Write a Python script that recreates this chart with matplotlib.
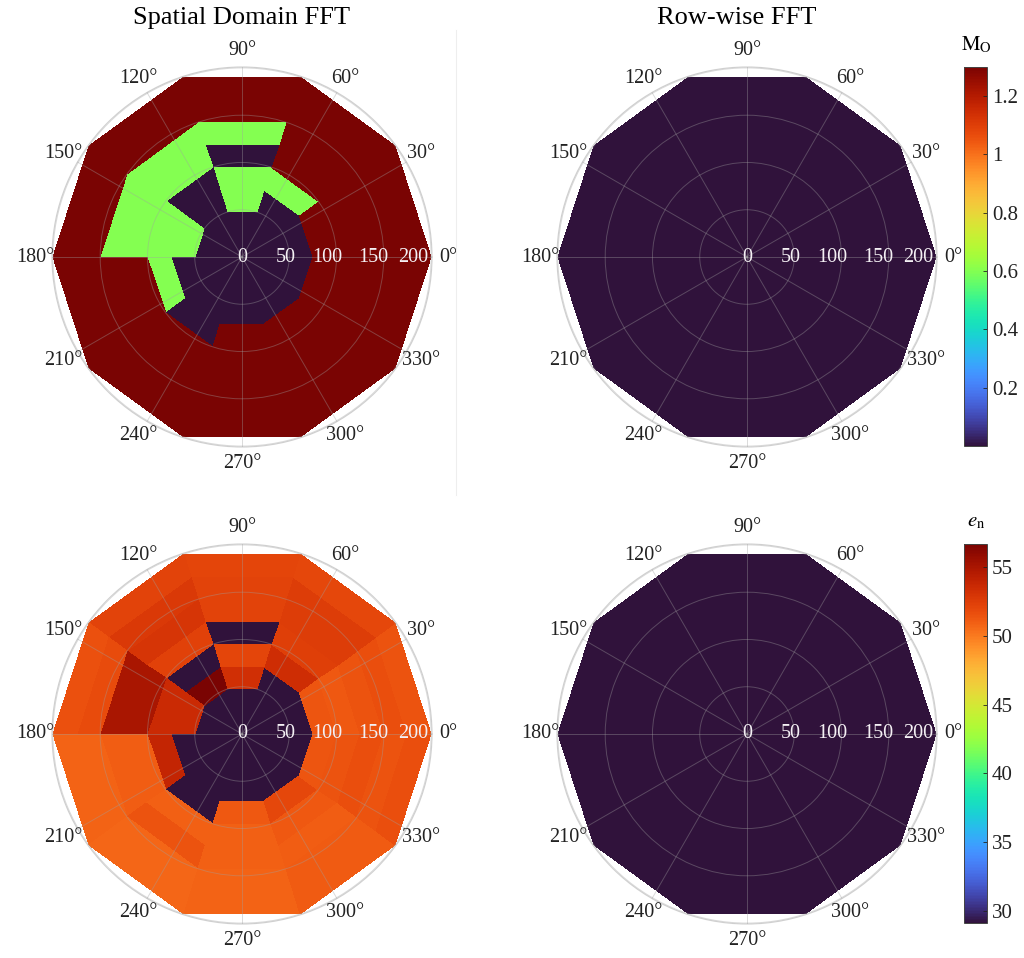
import numpy as np
import matplotlib
matplotlib.use("Agg")
import matplotlib.pyplot as plt
from matplotlib.lines import Line2D

plt.rcParams['font.family'] = ['Liberation Serif', 'DejaVu Serif']
plt.rcParams['mathtext.fontset'] = 'stix'

# --- data ---
# grid edges: 10 angular sectors of 36 deg, 8 radial rings of 25
theta_deg = [0, 36, 72, 108, 144, 180, 216, 252, 288, 324, 360]
r_edges = [0, 25, 50, 75, 100, 125, 150, 175, 200]

# M_O, spatial domain FFT (rows = rings from centre outward, cols = sectors)
mo_spatial = [
    [0.0, 0.0, 0.0, 0.0, 0.0, 0.0, 0.0, 0.0, 0.0, 0.0],
    [0.0, 0.0, 0.0, 0.0, 0.0, 0.0, 0.0, 0.0, 0.0, 0.0],
    [0.0, 0.0, 0.6, 0.0, 0.6, 0.0, 0.0, 0.0, 0.0, 0.0],
    [1.3, 0.6, 0.6, 0.0, 0.6, 0.6, 0.0, 1.3, 1.3, 1.3],
    [1.3, 1.3, 0.0, 0.6, 0.6, 1.3, 1.3, 1.3, 1.3, 1.3],
    [1.3, 1.3, 0.6, 0.6, 0.6, 1.3, 1.3, 1.3, 1.3, 1.3],
    [1.3, 1.3, 1.3, 1.3, 1.3, 1.3, 1.3, 1.3, 1.3, 1.3],
    [1.3, 1.3, 1.3, 1.3, 1.3, 1.3, 1.3, 1.3, 1.3, 1.3],
]
# M_O, row-wise FFT
mo_rowwise = [[0.0] * 10 for _ in range(8)]

# e_n, spatial domain FFT
en_spatial = [
    [29.1, 29.1, 29.1, 29.1, 29.1, 29.1, 29.1, 29.1, 29.1, 29.1],
    [29.1, 29.1, 29.1, 29.1, 29.1, 29.1, 29.1, 29.1, 29.1, 29.1],
    [29.1, 29.1, 53.3, 56.7, 53.6, 29.1, 29.1, 29.1, 29.1, 29.1],
    [51.4, 53.4, 52.1, 29.1, 53.6, 54.0, 29.1, 51.3, 52.0, 51.4],
    [51.3, 52.4, 29.1, 52.3, 55.0, 51.0, 50.9, 50.9, 51.3, 51.5],
    [51.5, 52.6, 52.2, 53.0, 55.0, 51.0, 51.5, 50.9, 51.0, 51.7],
    [51.7, 52.6, 52.2, 52.8, 51.8, 50.8, 50.7, 50.8, 51.1, 51.5],
    [51.5, 52.0, 52.1, 52.2, 51.6, 50.8, 50.7, 50.8, 51.1, 51.7],
]
# e_n, row-wise FFT
en_rowwise = [[29.1] * 10 for _ in range(8)]

mo_lim = (0.0, 1.3)
en_lim = (29.1, 56.7)
mo_ticks = [0.2, 0.4, 0.6, 0.8, 1.0, 1.2]
mo_ticklabels = ['0.2', '0.4', '0.6', '0.8', '1', '1.2']
en_ticks = [30, 35, 40, 45, 50, 55]
r_ticks = [0, 50, 100, 150, 200]
r_label_at = [0, 46, 90, 139, 181]   # where MATLAB put the r tick text
theta_ticks = list(range(0, 360, 30))

W, H = 1024, 958
fig = plt.figure(figsize=(W / 100, H / 100), dpi=100)


def px_box(x, y, w, h):
    return [x / W, 1 - (y + h) / H, w / W, h / H]


def polar_panel(box, data, lim):
    ax = fig.add_axes(px_box(*box), projection='polar')
    th = np.deg2rad(theta_deg)
    mesh = ax.pcolormesh(th, r_edges, np.array(data), cmap='turbo',
                         vmin=lim[0], vmax=lim[1], shading='flat')
    ax.set_ylim(0, 201)
    ax.set_axisbelow(False)
    ax.set_xticks(np.deg2rad(theta_ticks))
    ax.set_xticklabels([f'{t}°' for t in theta_ticks])
    ax.tick_params(axis='x', pad=1.5, labelsize=14.5, colors='#222222')
    ax.set_yticks(r_ticks)
    ax.set_yticklabels([])
    ax.grid(True, color='#a0a0a0', alpha=0.38, lw=0.7)
    ax.spines['polar'].set_color('#d0d0d0')
    ax.spines['polar'].set_linewidth(0.8)
    for r, pos in zip(r_ticks, r_label_at):
        ax.text(0, pos, str(r), ha='center', va='center', fontsize=14.5,
                color='#f4f0f4', zorder=5, clip_on=False)
    return ax, mesh


ax1, m1 = polar_panel((52, 67, 380, 380), mo_spatial, mo_lim)
ax2, m2 = polar_panel((557, 67, 380, 380), mo_rowwise, mo_lim)
ax3, m3 = polar_panel((52, 544, 380, 380), en_spatial, en_lim)
ax4, m4 = polar_panel((557, 544, 380, 380), en_rowwise, en_lim)

fig.text(242 / W, 1 - 18 / H, 'Spatial Domain FFT', ha='center', va='center', fontsize=19)
fig.text(737 / W, 1 - 18 / H, 'Row-wise FFT', ha='center', va='center', fontsize=19)

# colorbars
cax1 = fig.add_axes(px_box(964, 67, 23, 379))
cb1 = fig.colorbar(m1, cax=cax1)
cb1.set_ticks(mo_ticks)
cb1.set_ticklabels(mo_ticklabels)
cax2 = fig.add_axes(px_box(964, 544, 23, 379))
cb2 = fig.colorbar(m3, cax=cax2)
cb2.set_ticks(en_ticks)
for cb in (cb1, cb2):
    cb.outline.set_edgecolor('#444444')
    cb.outline.set_linewidth(0.7)
    cb.ax.tick_params(labelsize=15, direction='in', length=3, width=0.6, colors='#222222')
fig.text(976 / W, 1 - 45 / H, r'$\mathrm{M}_{\mathrm{O}}$', ha='center', va='center', fontsize=15)
fig.text(976 / W, 1 - 522 / H, r'$e_{\mathrm{n}}$', ha='center', va='center', fontsize=15)

# faint panel separator
fig.add_artist(Line2D([456 / W, 456 / W], [1 - 30 / H, 1 - 495 / H],
                      transform=fig.transFigure, color='#eeeeee', lw=0.8))

fig.savefig('out.png', dpi=100)
